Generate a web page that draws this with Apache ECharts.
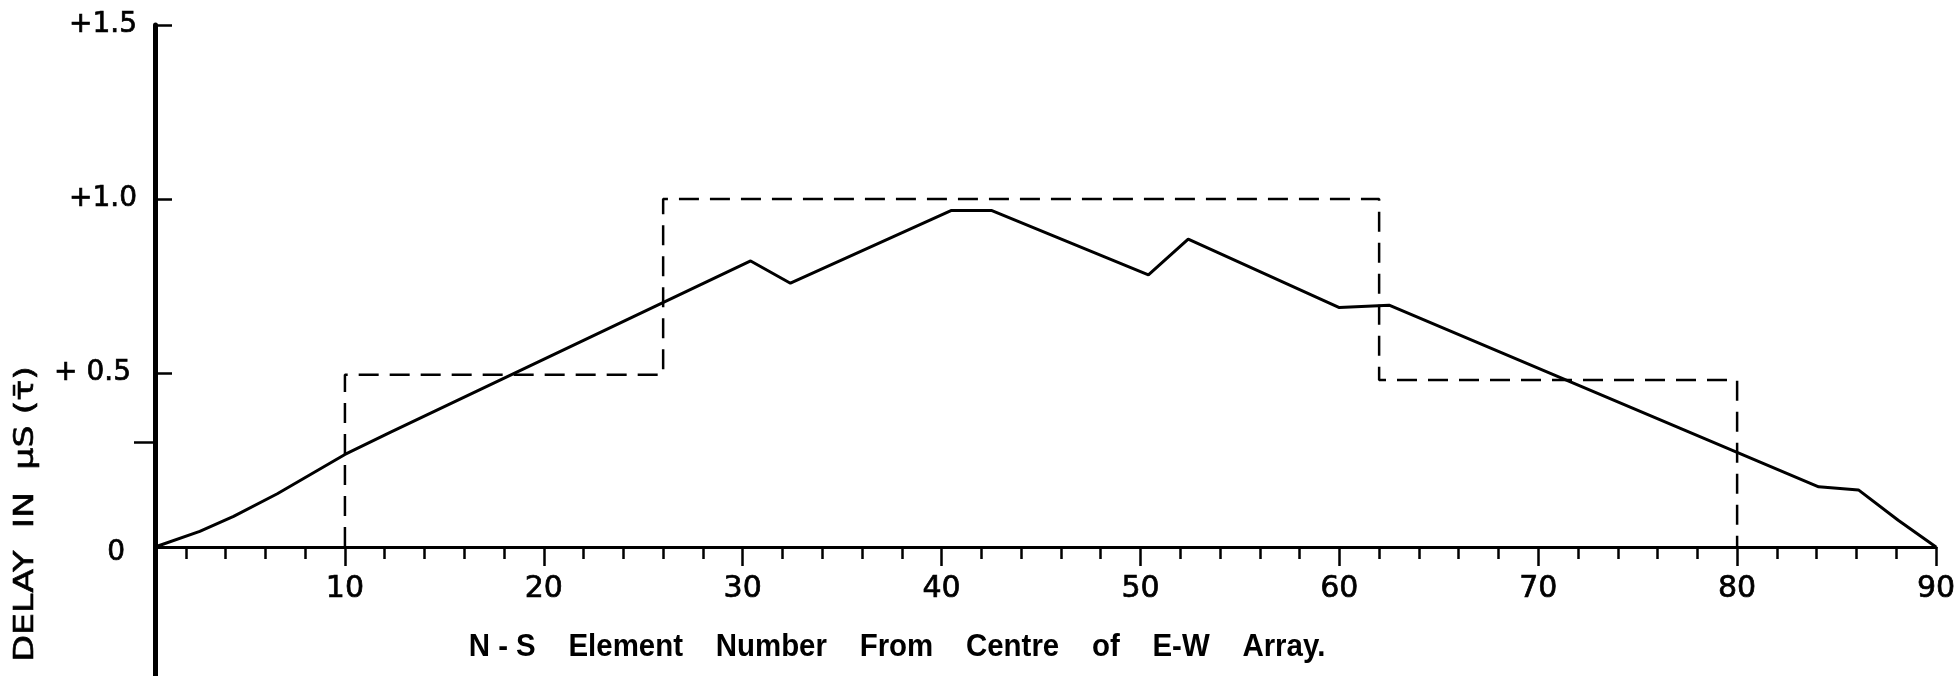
<!DOCTYPE html>
<html>
<head>
<meta charset="utf-8">
<title>Delay vs N-S element number</title>
<script src="https://cdn.jsdelivr.net/npm/echarts@6.0.0/dist/echarts.min.js"></script>
<style>
  html, body { margin: 0; padding: 0; background: #fff; }
  #chart { width: 1959px; height: 676px; }
</style>
</head>
<body>
<div id="chart"></div>
<script>
// solid curve: delay
const elementNo = [0.45, 2.7, 4.4, 6.6, 10, 12.3, 30.4, 32.4, 40.5, 42.5, 50.4, 52.4, 60, 62.5, 84.1, 86.1, 88.1, 90]
const delay = [0, 0.045, 0.088, 0.153, 0.266, 0.33, 0.822, 0.758, 0.967, 0.967, 0.782, 0.885, 0.688, 0.695, 0.173, 0.164, 0.077, 0]

// dashed step profile
const stepNo = [10, 10, 26, 26, 62, 62, 80, 80]
const stepDelay = [0, 0.495, 0.495, 1.0, 1.0, 0.48, 0.48, 0]

// ticks and labels
const xTickValues = [10, 20, 30, 40, 50, 60, 70, 80, 90]
const xMinorTicks = [2, 4, 6, 8, 12, 14, 16, 18, 22, 24, 26, 28, 32, 34, 36, 38, 42, 44, 46, 48,
  52, 54, 56, 58, 62, 64, 66, 68, 72, 74, 76, 78, 82, 84, 86, 88]
const yTickValues = [0, 0.5, 1.0, 1.5]
const yTickLabels = ['0', '+ 0.5', '+1.0', '+1.5']
const yInnerTicks = [0.5, 1.0, 1.5]
const yOuterTicks = [0.3]

const xName = 'N - S    Element    Number    From    Centre    of    E-W    Array.'
const yName = 'DELAY  IN  \u03bcS (\u03c4\u0304)'

const X_MIN = 0.45
const black = '#000'
const tickFont = 'DejaVu Sans'

// slightly heavier strokes for the hand-lettered labels
const labelInk = { color: black, fontFamily: tickFont, textBorderColor: black, textBorderWidth: 0.7 }

const chart = echarts.init(document.getElementById('chart'))

const option = {
  animation: false,
  backgroundColor: '#fff',
  grid: [
    // main plot, zero line at the bottom
    { left: 155, right: 23, top: 25, bottom: 129, containLabel: false, outerBoundsMode: 'none' },
    // the part of the y axis that runs below zero
    { left: 155, right: 23, top: 547, bottom: 0, containLabel: false, outerBoundsMode: 'none' }
  ],
  xAxis: [
    {
      type: 'value',
      gridIndex: 0,
      min: X_MIN,
      max: 90,
      position: 'bottom',
      axisLine: { show: true, onZero: false, lineStyle: { color: black, width: 3 } },
      axisTick: { show: true, customValues: xMinorTicks, length: 12, lineStyle: { color: black, width: 2.5 } },
      axisLabel: { customValues: xTickValues, margin: 27, fontSize: 30, ...labelInk },
      splitLine: { show: false }
    },
    {
      // long ticks at every 10
      type: 'value',
      gridIndex: 0,
      min: X_MIN,
      max: 90,
      position: 'bottom',
      offset: 0,
      axisLine: { show: false, onZero: false },
      axisTick: { show: true, customValues: xTickValues, length: 19, lineStyle: { color: black, width: 2.5 } },
      axisLabel: { show: false },
      splitLine: { show: false }
    },
    {
      type: 'value',
      gridIndex: 1,
      min: X_MIN,
      max: 90,
      show: false
    }
  ],
  yAxis: [
    {
      type: 'value',
      gridIndex: 0,
      min: 0,
      max: 1.5,
      position: 'left',
      axisLine: { show: true, onZero: false, lineStyle: { color: black, width: 5 } },
      axisTick: { show: true, inside: true, customValues: yInnerTicks, length: 17, lineStyle: { color: black, width: 2.5 } },
      axisLabel: {
        customValues: yTickValues,
        margin: 18,
        fontSize: 28,
        ...labelInk,
        formatter: v => {
          const s = yTickLabels[yTickValues.indexOf(v)]
          if (v === 0) return '{z|' + s + '}'
          if (v === 0.5) return '{h|' + s + '}'
          return s
        },
        rich: {
          z: { fontSize: 28, ...labelInk, padding: [12, 12, 0, 0] },
          h: { fontSize: 28, ...labelInk, padding: [0, 6, 0, 0] }
        }
      },
      splitLine: { show: false }
    },
    {
      // the single tick pointing outwards
      type: 'value',
      gridIndex: 0,
      min: 0,
      max: 1.5,
      position: 'left',
      axisLine: { show: false, onZero: false },
      axisTick: { show: true, inside: false, customValues: yOuterTicks, length: 21, lineStyle: { color: black, width: 2.5 } },
      axisLabel: { show: false },
      splitLine: { show: false }
    },
    {
      type: 'value',
      gridIndex: 1,
      min: -1,
      max: 0,
      position: 'left',
      axisLine: { show: true, onZero: false, lineStyle: { color: black, width: 5 } },
      axisTick: { show: false },
      axisLabel: { show: false },
      splitLine: { show: false }
    }
  ],
  graphic: [
    {
      type: 'text',
      x: 26,
      y: 514,
      rotation: Math.PI / 2,
      scaleX: 1.34,
      style: {
        text: yName, font: '26px "DejaVu Sans"', fill: black,
        stroke: black, lineWidth: 0.6, align: 'center', verticalAlign: 'middle'
      }
    },
    {
      type: 'text',
      x: 897,
      y: 647,
      scaleX: 0.92,
      style: { text: xName, font: 'bold 32px "Liberation Sans"', fill: black, align: 'center', verticalAlign: 'middle' }
    }
  ],
  series: [
    {
      name: 'delay',
      type: 'line',
      xAxisIndex: 0,
      yAxisIndex: 0,
      showSymbol: false,
      lineStyle: { color: black, width: 3 },
      data: elementNo.map((x, i) => [x, delay[i]])
    },
    {
      name: 'step',
      type: 'line',
      xAxisIndex: 0,
      yAxisIndex: 0,
      showSymbol: false,
      lineStyle: { color: black, width: 2.5, type: [20, 11] },
      data: stepNo.map((x, i) => [x, stepDelay[i]])
    }
  ]
}

chart.setOption(option)
</script>
</body>
</html>
